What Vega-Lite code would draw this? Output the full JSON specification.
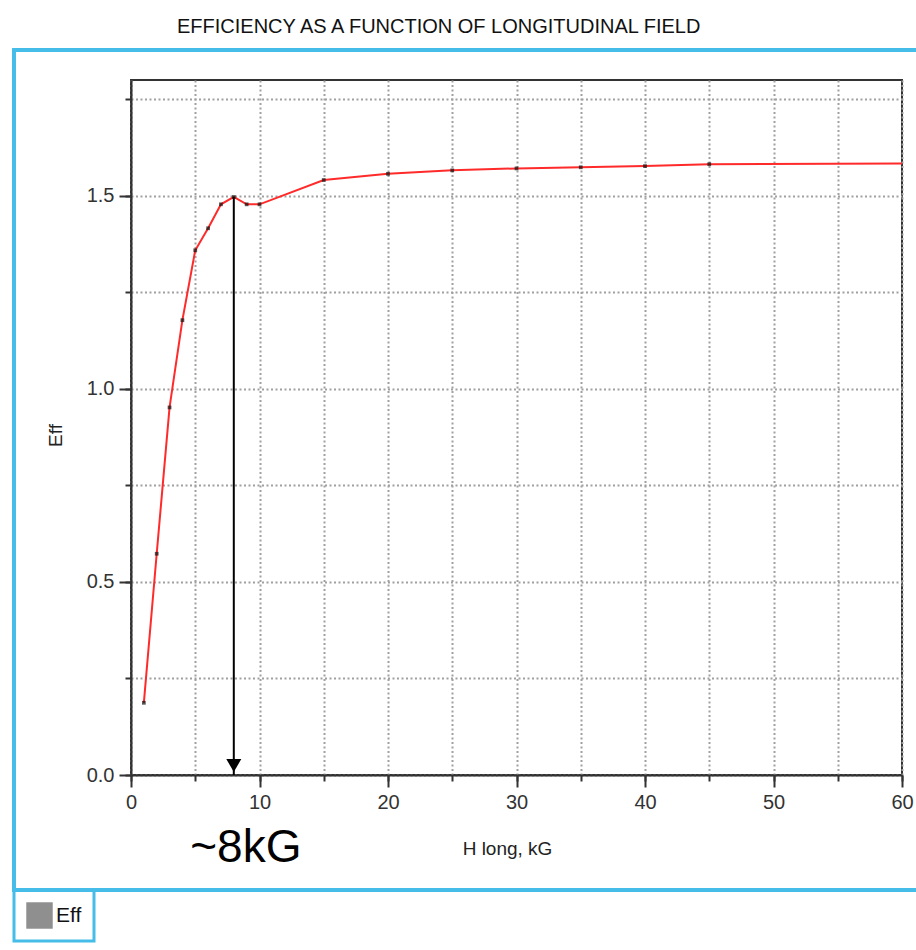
{
  "$schema": "https://vega.github.io/schema/vega-lite/v6.json",
  "width": 771,
  "height": 695,
  "autosize": {"type": "none"},
  "padding": {"left": 131, "top": 80, "right": 14, "bottom": 175},
  "background": "white",
  "title": {
    "text": "EFFICIENCY AS A FUNCTION OF LONGITUDINAL FIELD",
    "anchor": "start",
    "frame": "group",
    "dx": 46,
    "offset": 2,
    "baseline": "middle",
    "fontSize": 20,
    "fontWeight": "normal",
    "color": "#111111"
  },
  "data": {
    "values": [
      {"H": 1, "Eff": 0.187, "series": "Eff"},
      {"H": 2, "Eff": 0.573, "series": "Eff"},
      {"H": 3, "Eff": 0.952, "series": "Eff"},
      {"H": 4, "Eff": 1.178, "series": "Eff"},
      {"H": 5, "Eff": 1.359, "series": "Eff"},
      {"H": 6, "Eff": 1.416, "series": "Eff"},
      {"H": 7, "Eff": 1.478, "series": "Eff"},
      {"H": 8, "Eff": 1.497, "series": "Eff"},
      {"H": 9, "Eff": 1.478, "series": "Eff"},
      {"H": 10, "Eff": 1.478, "series": "Eff"},
      {"H": 15, "Eff": 1.541, "series": "Eff"},
      {"H": 20, "Eff": 1.557, "series": "Eff"},
      {"H": 25, "Eff": 1.566, "series": "Eff"},
      {"H": 30, "Eff": 1.571, "series": "Eff"},
      {"H": 35, "Eff": 1.574, "series": "Eff"},
      {"H": 40, "Eff": 1.577, "series": "Eff"},
      {"H": 45, "Eff": 1.582, "series": "Eff"},
      {"H": 60, "Eff": 1.584, "series": "Eff"}
    ]
  },
  "resolve": {"axis": {"x": "independent", "y": "independent"}},
  "layer": [
    {
      "mark": {"type": "line", "color": "#ff2a2a", "strokeWidth": 2, "interpolate": "linear"},
      "encoding": {
        "x": {
          "field": "H", "type": "quantitative",
          "scale": {"domain": [0, 60], "nice": false, "zero": false},
          "axis": {
            "orient": "bottom",
            "values": [0, 10, 20, 30, 40, 50, 60],
            "tickSize": 12, "grid": false, "labelPadding": 5, "labelFlush": false,
            "title": "H long, kG", "titleX": 376, "titleY": 73,
            "titleBaseline": "middle", "titleAlign": "center"
          }
        },
        "y": {
          "field": "Eff", "type": "quantitative",
          "scale": {"domain": [0, 1.8], "nice": false, "zero": false},
          "axis": {
            "orient": "left",
            "values": [0, 0.5, 1.0, 1.5], "format": ".1f",
            "tickSize": 12, "grid": false, "labelPadding": 5, "labelFlush": false,
            "title": "Eff", "titleAngle": -90, "titleX": -76, "titleY": 355,
            "titleBaseline": "middle", "titleAlign": "center"
          }
        },
        "color": {
          "field": "series", "type": "nominal",
          "scale": {"range": ["#ff2a2a"]},
          "legend": {
            "title": null,
            "orient": "none",
            "legendX": -117,
            "legendY": 810,
            "padding": 12,
            "strokeColor": "#45bde8",
            "symbolType": "square",
            "symbolSize": 700,
            "symbolFillColor": "#8f8f8f",
            "symbolStrokeWidth": 0,
            "labelFontSize": 21,
            "labelColor": "#111111",
            "labelOffset": 3,
            "labelExpr": "datum.label + '\u00a0\u00a0\u00a0'",
            "encode": {
              "legend": {"update": {"strokeWidth": {"value": 3}}},
              "symbols": {"update": {"fill": {"value": "#8f8f8f"}, "strokeWidth": {"value": 0}, "shape": {"value": "square"}}}
            }
          }
        }
      }
    },
    {
      "transform": [{"filter": "datum.H <= 45"}],
      "mark": {"type": "point", "shape": "square", "filled": true, "color": "#111111", "size": 14},
      "encoding": {
        "x": {
          "field": "H", "type": "quantitative",
          "scale": {"domain": [0, 60], "nice": false, "zero": false},
          "axis": {
            "orient": "bottom",
            "values": [0, 5, 10, 15, 20, 25, 30, 35, 40, 45, 50, 55, 60],
            "tickSize": 6, "labels": false, "domain": false, "title": null,
            "grid": true, "gridColor": "#a0a0a0", "gridDash": [2, 2.5], "gridWidth": 2
          }
        },
        "y": {
          "field": "Eff", "type": "quantitative",
          "scale": {"domain": [0, 1.8], "nice": false, "zero": false},
          "axis": {
            "orient": "left",
            "values": [0, 0.25, 0.5, 0.75, 1.0, 1.25, 1.5, 1.75],
            "tickSize": 6, "labels": false, "domain": false, "title": null,
            "grid": true, "gridColor": "#a0a0a0", "gridDash": [2, 2.5], "gridWidth": 2
          }
        }
      }
    },
    {
      "transform": [{"filter": "datum.H == 8"}],
      "mark": {"type": "rule", "color": "#000000", "strokeWidth": 2},
      "encoding": {
        "x": {"field": "H", "type": "quantitative", "scale": {"domain": [0, 60], "nice": false, "zero": false}, "axis": null},
        "y": {"field": "Eff", "type": "quantitative", "scale": {"domain": [0, 1.8], "nice": false, "zero": false}, "axis": null},
        "y2": {"datum": 0}
      }
    },
    {
      "transform": [{"filter": "datum.H == 8"}],
      "mark": {"type": "point", "shape": "triangle-down", "filled": true, "color": "#000000", "size": 225, "yOffset": -9.5, "opacity": 1},
      "encoding": {
        "x": {"field": "H", "type": "quantitative", "scale": {"domain": [0, 60], "nice": false, "zero": false}, "axis": null},
        "y": {"datum": 0, "type": "quantitative", "scale": {"domain": [0, 1.8], "nice": false, "zero": false}, "axis": null}
      }
    },
    {
      "transform": [{"filter": "datum.H == 8"}],
      "mark": {"type": "text", "text": "~8kG", "fontSize": 46, "color": "#000000", "align": "center", "baseline": "middle", "dx": 12, "dy": 73},
      "encoding": {
        "x": {"field": "H", "type": "quantitative", "scale": {"domain": [0, 60], "nice": false, "zero": false}, "axis": null},
        "y": {"datum": 0, "type": "quantitative", "scale": {"domain": [0, 1.8], "nice": false, "zero": false}, "axis": null}
      }
    },
    {
      "mark": {"type": "rect", "filled": false, "stroke": "#45bde8", "strokeWidth": 3, "clip": false},
      "encoding": {
        "x": {"datum": -9.1, "type": "quantitative", "scale": {"domain": [0, 60], "nice": false, "zero": false}, "axis": null},
        "x2": {"datum": 63},
        "y": {"datum": 1.877, "type": "quantitative", "scale": {"domain": [0, 1.8], "nice": false, "zero": false}, "axis": null},
        "y2": {"datum": -0.298}
      }
    }
  ],
  "config": {
    "font": "Liberation Sans",
    "view": {"stroke": "#333333", "strokeWidth": 2},
    "axis": {
      "domainColor": "#333333",
      "domainWidth": 2,
      "tickColor": "#333333",
      "tickWidth": 2,
      "labelFontSize": 20,
      "labelColor": "#333333",
      "labelFont": "Liberation Sans",
      "titleFontSize": 19,
      "titleFontWeight": "normal",
      "titleColor": "#222222",
      "titleFont": "Liberation Sans"
    }
  }
}
